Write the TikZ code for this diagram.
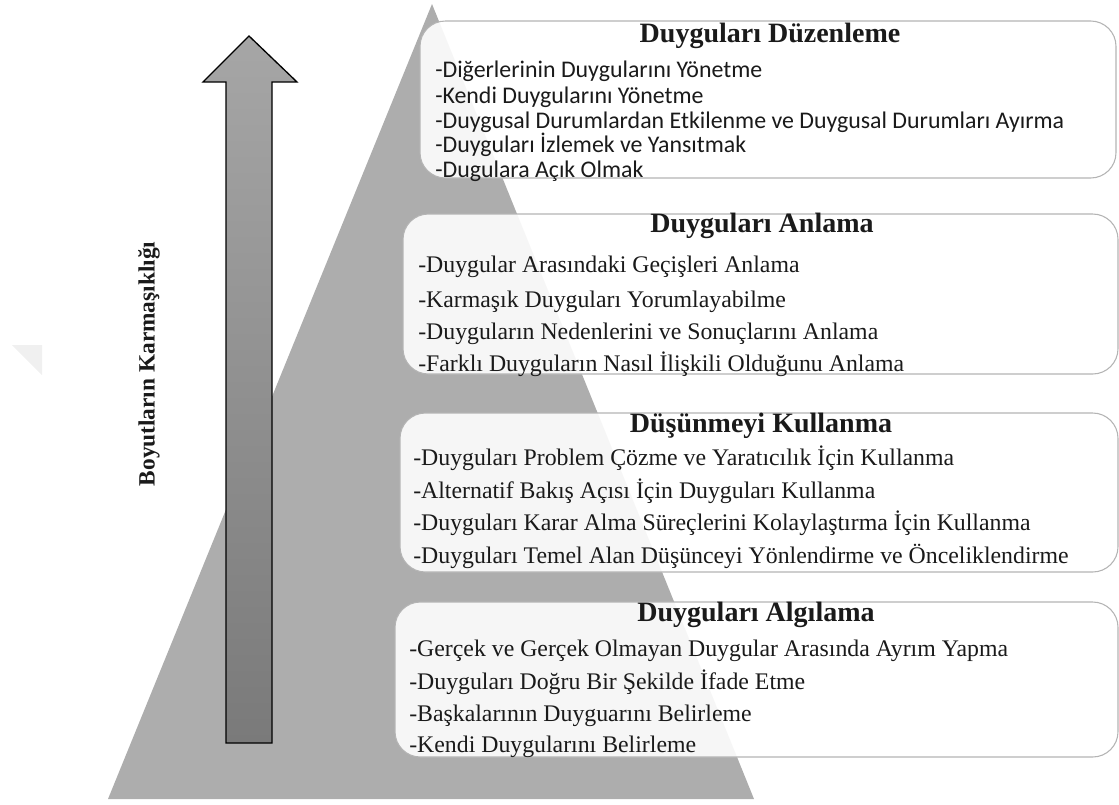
\documentclass[tikz,border=0pt]{standalone}
\usepackage{fontspec}
\setmainfont{Liberation Serif}
\newfontfamily\itemsansfont{Carlito}
\definecolor{pyramid}{HTML}{ADADAD}
\definecolor{arrowtop}{HTML}{A6A6A6}
\definecolor{arrowbottom}{HTML}{7A7A7A}
\definecolor{boxline}{HTML}{B4B4B4}
\definecolor{ink}{HTML}{1A1A1A}
\definecolor{cornerfill}{HTML}{F0F0F0}
\begin{document}
\begin{tikzpicture}[x=0.75pt,y=-0.75pt,
  layerbox/.style={draw=boxline, line width=0.8pt, fill=white, fill opacity=0.9, rounded corners=19pt},
  layertitle/.style={font=\fontsize{21}{24}\selectfont\bfseries, text=ink, inner sep=0pt, anchor=base},
  serifitem/.style={font=\fontsize{17.85}{20}\selectfont, text=ink, inner sep=0pt, anchor=base west},
  sansitem/.style={font=\itemsansfont\fontsize{17.9}{20}\selectfont, text=ink, inner sep=0pt, anchor=base west},
]
\useasboundingbox (0,0) rectangle (1119,804);

% faint corner triangle on the left margin
\fill[cornerfill] (12,345) -- (42,345) -- (42,375) -- cycle;

% pyramid
\fill[pyramid] (432,4) -- (754,799) -- (108,799) -- cycle;

% complexity arrow
\path[draw=black, line width=1pt, top color=arrowtop, bottom color=arrowbottom]
  (249,36) -- (297,82) -- (272,82) -- (272,743) -- (226,743) -- (226,82) -- (203,82) -- cycle;
\node[font=\fontsize{17.5}{20}\selectfont\bfseries, text=ink, rotate=90, inner sep=0pt] (axis) at (149,364) {Boyutların Karmaşıklığı};

% layer boxes
\draw[layerbox] (420,21) rectangle (1116,178);
\draw[layerbox] (403,214) rectangle (1118,374);
\draw[layerbox] (400,413) rectangle (1118,572);
\draw[layerbox] (395,602) rectangle (1118,757);

% Duyguları Düzenleme
\node[layertitle] (t1) at (770,42) {Duyguları Düzenleme};
\node[sansitem] (a1) at (435,77.7) {-Diğerlerinin Duygularını Yönetme};
\node[sansitem] (a2) at (435,103.3) {-Kendi Duygularını Yönetme};
\node[sansitem] (a3) at (435,128.3) {-Duygusal Durumlardan Etkilenme ve Duygusal Durumları Ayırma};
\node[sansitem] (a4) at (435,152.3) {-Duyguları İzlemek ve Yansıtmak};
\node[sansitem] (a5) at (435,177.3) {-Dugulara Açık Olmak};

% Duyguları Anlama
\node[layertitle] (t2) at (762,232.7) {Duyguları Anlama};
\node[serifitem] (b1) at (418,272.7) {-Duygular Arasındaki Geçişleri Anlama};
\node[serifitem] (b2) at (418,307.3) {-Karmaşık Duyguları Yorumlayabilme};
\node[serifitem] (b3) at (418,339) {-Duyguların Nedenlerini ve Sonuçlarını Anlama};
\node[serifitem] (b4) at (418,371.7) {-Farklı Duyguların Nasıl İlişkili Olduğunu Anlama};

% Düşünmeyi Kullanma
\node[layertitle] (t3) at (761,432) {Düşünmeyi Kullanma};
\node[serifitem] (c1) at (413,465.5) {-Duyguları Problem Çözme ve Yaratıcılık İçin Kullanma};
\node[serifitem] (c2) at (413,498.5) {-Alternatif Bakış Açısı İçin Duyguları Kullanma};
\node[serifitem] (c3) at (413,530.5) {-Duyguları Karar Alma Süreçlerini Kolaylaştırma İçin Kullanma};
\node[serifitem] (c4) at (413,563) {-Duyguları Temel Alan Düşünceyi Yönlendirme ve Önceliklendirme};

% Duyguları Algılama
\node[layertitle] (t4) at (756,621.7) {Duyguları Algılama};
\node[serifitem] (d1) at (409,656.7) {-Gerçek ve Gerçek Olmayan Duygular Arasında Ayrım Yapma};
\node[serifitem] (d2) at (409,689.3) {-Duyguları Doğru Bir Şekilde İfade Etme};
\node[serifitem] (d3) at (409,721.7) {-Başkalarının Duyguarını Belirleme};
\node[serifitem] (d4) at (409,752.7) {-Kendi Duygularını Belirleme};
\end{tikzpicture}
\end{document}
